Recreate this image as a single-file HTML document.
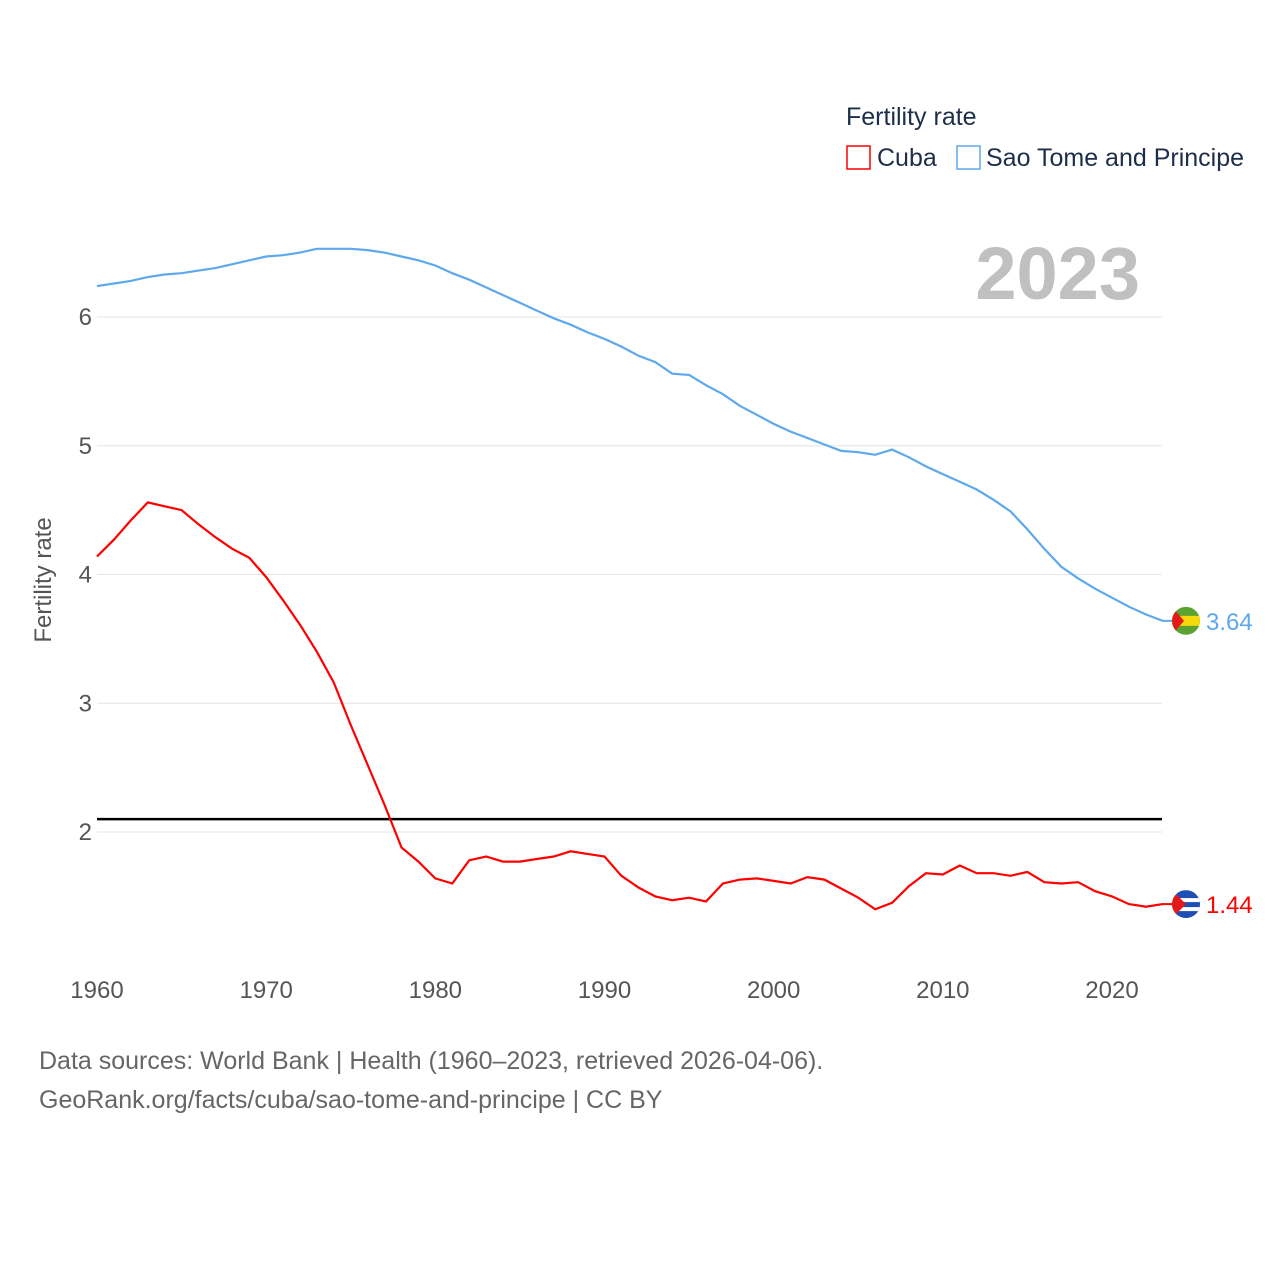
<!DOCTYPE html>
<html><head><meta charset="utf-8"><style>
body{margin:0;background:#fff;font-family:"Liberation Sans",sans-serif}
svg text{font-family:"Liberation Sans",sans-serif}
</style></head><body>
<svg id="chart" width="1280" height="1280" viewBox="0 0 1280 1280">
<defs id="defs"></defs>
<text x="846" y="125" font-size="25" fill="#1c2e4a">Fertility rate</text>
<g><rect x="847" y="146" width="23" height="23" fill="none" stroke="#ff0000" stroke-width="1.5"/><text x="877" y="166" font-size="25" fill="#1c2e4a">Cuba</text></g>
<g><rect x="957" y="146" width="23" height="23" fill="none" stroke="#5ea8ee" stroke-width="1.5"/><text x="986" y="166" font-size="25" fill="#1c2e4a">Sao Tome and Principe</text></g>
<text x="1140" y="299" font-size="74" font-weight="bold" fill="#c0c0c0" text-anchor="end">2023</text>
<text transform="translate(51,580) rotate(-90)" font-size="24" fill="#555" text-anchor="middle">Fertility rate</text>
<g id="grid"></g><g id="ticks"></g><g id="lines"></g>
<text x="39" y="1069" font-size="25" fill="#666">Data sources: World Bank | Health (1960–2023, retrieved 2026-04-06).</text>
<text x="39" y="1108" font-size="25" fill="#666">GeoRank.org/facts/cuba/sao-tome-and-principe | CC BY</text>
</svg>
<script>
const years=[];for(let y=1960;y<=2023;y++)years.push(y);
const cuba=[4.14,4.27,4.42,4.56,4.53,4.50,4.39,4.29,4.20,4.13,3.98,3.80,3.61,3.40,3.16,2.83,2.52,2.21,1.88,1.77,1.64,1.60,1.78,1.81,1.77,1.77,1.79,1.81,1.85,1.83,1.81,1.66,1.57,1.50,1.47,1.49,1.46,1.60,1.63,1.64,1.62,1.60,1.65,1.63,1.56,1.49,1.40,1.45,1.58,1.68,1.67,1.74,1.68,1.68,1.66,1.69,1.61,1.60,1.61,1.54,1.50,1.44,1.42,1.44];
const stp=[6.24,6.26,6.28,6.31,6.33,6.34,6.36,6.38,6.41,6.44,6.47,6.48,6.50,6.53,6.53,6.53,6.52,6.50,6.47,6.44,6.40,6.34,6.29,6.23,6.17,6.11,6.05,5.99,5.94,5.88,5.83,5.77,5.70,5.65,5.56,5.55,5.47,5.40,5.31,5.24,5.17,5.11,5.06,5.01,4.96,4.95,4.93,4.97,4.91,4.84,4.78,4.72,4.66,4.58,4.49,4.35,4.20,4.06,3.97,3.89,3.82,3.75,3.69,3.64];
const yTicks=[2,3,4,5,6];
const xTicks=[1960,1970,1980,1990,2000,2010,2020];
const replacement=[2.1];
const X=y=>97+(y-1960)*1015/60, Y=v=>832-(v-2)*128.75;
const NS='http://www.w3.org/2000/svg';
function mk(t,a,p){const e=document.createElementNS(NS,t);for(const k in a)e.setAttribute(k,a[k]);p.appendChild(e);return e;}
const grid=document.getElementById('grid'),ticks=document.getElementById('ticks'),lines=document.getElementById('lines'),defs=document.getElementById('defs');
yTicks.forEach(v=>{const l=mk('line',{x1:97,x2:1162,y1:Y(v),y2:Y(v),stroke:'#e6e6e6'},grid);


const t=mk('text',{x:92,y:Y(v)+8,'font-size':24,fill:'#555','text-anchor':'end'},ticks);t.textContent=v;

});
xTicks.forEach(v=>{const t=mk('text',{x:X(v),y:998,'font-size':24,fill:'#555','text-anchor':'middle'},ticks);t.textContent=v;

});
const rl=mk('line',{x1:97,x2:1162,y1:Y(replacement[0]),y2:Y(replacement[0]),stroke:'#000','stroke-width':2.5},lines);


function series(d,c,name){const p=mk('path',{d:d.map((v,i)=>(i?'L':'M')+X(years[i]).toFixed(1)+','+Y(v).toFixed(1)).join(''),fill:'none',stroke:c,'stroke-width':2.2},lines);


const lv=d[d.length-1],cy=Y(lv);
mk('line',{x1:1162,x2:1172,y1:cy,y2:cy,stroke:c,'stroke-width':2},lines);
const cp=mk('clipPath',{id:'clip-'+name},defs);mk('circle',{cx:1186,cy:cy,r:14},cp);
const g=mk('g',{'clip-path':'url(#clip-'+name+')'},lines);


return {g,cy,lv};}
const c=series(cuba,'#ff0000','cuba');
mk('rect',{x:1172,y:c.cy-14,width:28,height:28,fill:'#1f4fb4'},c.g);
mk('rect',{x:1172,y:c.cy-6,width:28,height:4,fill:'#fff'},c.g);mk('rect',{x:1172,y:c.cy+3,width:28,height:4,fill:'#fff'},c.g);
mk('path',{d:`M1172,${c.cy-14}L1186,${c.cy}L1172,${c.cy+14}Z`,fill:'#e21a1a'},c.g);
const ct=mk('text',{x:1206,y:c.cy+9,'font-size':24,fill:'#ff0000'},lines);ct.textContent='1.44';


const s=series(stp,'#5ea8ee','sao-tome');
mk('rect',{x:1172,y:s.cy-14,width:28,height:28,fill:'#5aa332'},s.g);
mk('rect',{x:1172,y:s.cy-5,width:28,height:10,fill:'#f5d90a'},s.g);
mk('path',{d:`M1172,${s.cy-14}L1184,${s.cy}L1172,${s.cy+14}Z`,fill:'#e21a1a'},s.g);
const st=mk('text',{x:1206,y:s.cy+9,'font-size':24,fill:'#5ea8ee'},lines);st.textContent='3.64';


</script>
</body></html>
